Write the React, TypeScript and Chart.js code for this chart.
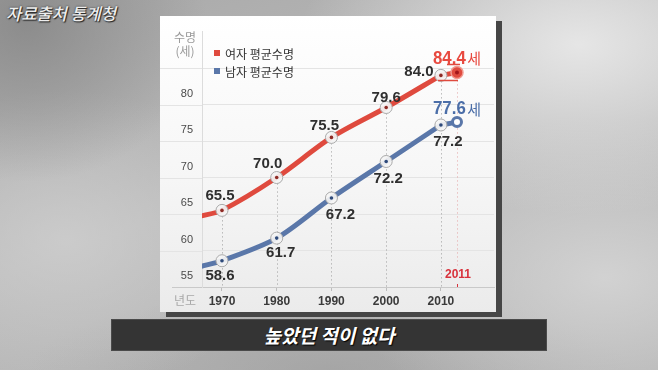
import React, { useEffect, useRef } from 'react';
import { Chart, registerables } from 'chart.js';

Chart.register(...registerables);

// ---------- data ----------
const years = [1970, 1980, 1990, 2000, 2010];
const femaleLife = [65.5, 70.0, 75.5, 79.6, 84.0];
const maleLife = [58.6, 61.7, 67.2, 72.2, 77.2];
const leadYear = 1966;
const femaleLead = 64.7;
const maleLead = 57.8;
const latestYear = 2011;
const femaleLatest = 84.4;
const maleLatest = 77.6;
const yTickValues = [55, 60, 65, 70, 75, 80];
const yGridValues = [55, 60, 65, 70, 75, 80, 85];
const seriesNames = ['여자 평균수명', '남자 평균수명'];

// ---------- styles ----------
const RED = '#df4a3e';
const BLUE = '#5a77a9';
const RED_TEXT = '#e8493f';
const BLUE_TEXT = '#4b6ea8';
const NFONT = "'Liberation Sans', Arial, sans-serif";
const KFONT = "'Noto Sans CJK KR', 'Noto Sans', sans-serif";

const femaleLabelOffsets = [[-2, -15], [-9, -14], [-7, -12], [0, -10], [-22, -4]];
const maleLabelOffsets = [[-2, 15], [4, 15], [9, 17], [2, 17], [7, 17]];

const overlayPlugin = {
  id: 'overlay',
  beforeDatasetsDraw(chart: any) {
    const { ctx, chartArea, scales } = chart;
    const ys = scales.y;
    ctx.save();
    ctx.lineWidth = 1;
    ctx.strokeStyle = '#e4e4e4';
    yGridValues.forEach((v) => {
      if (v === yGridValues[0]) return;
      const py = Math.round(ys.getPixelForValue(v)) + 0.5;
      ctx.beginPath();
      ctx.moveTo(0, py);
      ctx.lineTo(chartArea.left, py);
      ctx.stroke();
    });
    ctx.strokeStyle = '#c9c9c9';
    const by = Math.round(chartArea.bottom) + 0.5;
    ctx.beginPath();
    ctx.moveTo(12, by);
    ctx.lineTo(chartArea.left, by);
    ctx.stroke();

    const fMeta = chart.getDatasetMeta(0);
    ctx.setLineDash([1, 3]);
    ctx.strokeStyle = '#9c9c9c';
    years.forEach((_, i) => {
      const el = fMeta.data[i + 1];
      const x = Math.round(el.x) + 0.5;
      ctx.beginPath();
      ctx.moveTo(x, el.y + 6);
      ctx.lineTo(x, chartArea.bottom);
      ctx.stroke();
    });
    const endEl = chart.getDatasetMeta(2).data[1];
    const ex = Math.round(endEl.x) + 0.5;
    ctx.strokeStyle = '#e3a3a3';
    ctx.beginPath();
    ctx.moveTo(ex, endEl.y + 8);
    ctx.lineTo(ex, chartArea.bottom - 20);
    ctx.stroke();
    ctx.setLineDash([]);

    ctx.fillStyle = '#d8323c';
    ctx.font = `bold 12px ${NFONT}`;
    ctx.textAlign = 'center';
    ctx.textBaseline = 'middle';
    ctx.fillText(String(latestYear), endEl.x + 1, chartArea.bottom - 12);
    ctx.strokeStyle = '#d8323c';
    ctx.beginPath();
    ctx.moveTo(ex, chartArea.bottom - 3);
    ctx.lineTo(ex, chartArea.bottom);
    ctx.stroke();
    ctx.restore();
  },
  afterDatasetsDraw(chart: any) {
    const { ctx } = chart;
    ctx.save();
    const drawMarker = (x: number, y: number, dot: string) => {
      ctx.beginPath();
      ctx.arc(x, y, 6, 0, Math.PI * 2);
      ctx.fillStyle = 'rgba(244,244,244,0.92)';
      ctx.fill();
      ctx.lineWidth = 1;
      ctx.strokeStyle = '#a9a9a9';
      ctx.stroke();
      ctx.beginPath();
      ctx.arc(x, y, 1.8, 0, Math.PI * 2);
      ctx.fillStyle = dot;
      ctx.fill();
    };
    const fMeta = chart.getDatasetMeta(0);
    const mMeta = chart.getDatasetMeta(1);
    years.forEach((_, i) => {
      const f = fMeta.data[i + 1];
      const m = mMeta.data[i + 1];
      drawMarker(f.x, f.y, '#8e2a24');
      drawMarker(m.x, m.y, '#2e4a7a');
    });

    const fe = chart.getDatasetMeta(2).data[1];
    const me = chart.getDatasetMeta(3).data[1];
    ctx.beginPath();
    ctx.arc(fe.x, fe.y, 6, 0, Math.PI * 2);
    ctx.fillStyle = RED;
    ctx.fill();
    ctx.lineWidth = 1.5;
    ctx.strokeStyle = '#f29a90';
    ctx.stroke();
    ctx.beginPath();
    ctx.arc(fe.x, fe.y, 2, 0, Math.PI * 2);
    ctx.fillStyle = '#a3161a';
    ctx.fill();
    ctx.strokeStyle = RED;
    ctx.lineWidth = 1.5;
    ctx.beginPath();
    ctx.moveTo(fe.x - 10, fe.y - 8);
    ctx.lineTo(fe.x + 3, fe.y - 8);
    ctx.moveTo(fe.x - 19, fe.y + 8);
    ctx.lineTo(fe.x + 1, fe.y + 8);
    ctx.stroke();

    ctx.beginPath();
    ctx.arc(me.x, me.y, 4.5, 0, Math.PI * 2);
    ctx.fillStyle = '#ffffff';
    ctx.fill();
    ctx.lineWidth = 3;
    ctx.strokeStyle = BLUE;
    ctx.stroke();

    ctx.font = `bold 15px ${NFONT}`;
    ctx.textAlign = 'center';
    ctx.textBaseline = 'middle';
    ctx.fillStyle = '#2f2f2f';
    years.forEach((_, i) => {
      const f = fMeta.data[i + 1];
      const m = mMeta.data[i + 1];
      const [fdx, fdy] = femaleLabelOffsets[i];
      const [mdx, mdy] = maleLabelOffsets[i];
      ctx.fillText(femaleLife[i].toFixed(1), f.x + fdx, f.y + fdy);
      ctx.fillText(maleLife[i].toFixed(1), m.x + mdx, m.y + mdy);
    });

    const bigLabel = (val: number, x: number, y: number, color: string) => {
      ctx.save();
      ctx.fillStyle = color;
      ctx.translate(x, y);
      ctx.scale(0.91, 1);
      ctx.font = `bold 18.5px ${NFONT}`;
      ctx.textAlign = 'left';
      ctx.textBaseline = 'middle';
      const txt = val.toFixed(1);
      ctx.fillText(txt, 0, 0);
      const w = ctx.measureText(txt).width * 0.91;
      ctx.restore();
      ctx.fillStyle = color;
      ctx.font = `15px ${KFONT}`;
      ctx.textAlign = 'left';
      ctx.textBaseline = 'middle';
      ctx.fillText('세', x + w + 1.5, y);
    };
    bigLabel(femaleLatest, fe.x - 24, fe.y - 14, RED_TEXT);
    bigLabel(maleLatest, me.x - 24, me.y - 13, BLUE_TEXT);
    ctx.restore();
  },
};

export default function App() {
  const canvasRef = useRef<HTMLCanvasElement>(null);

  useEffect(() => {
    const canvas = canvasRef.current;
    if (!canvas) return;
    const chart = new Chart(canvas, {
      type: 'line',
      data: {
        datasets: [
          {
            label: seriesNames[0],
            data: [{ x: leadYear, y: femaleLead }, ...years.map((yr, i) => ({ x: yr, y: femaleLife[i] }))],
            xAxisID: 'x',
            borderColor: RED,
            borderWidth: 5,
            pointRadius: 0,
            tension: 0.3,
            borderCapStyle: 'round',
          },
          {
            label: seriesNames[1],
            data: [{ x: leadYear, y: maleLead }, ...years.map((yr, i) => ({ x: yr, y: maleLife[i] }))],
            xAxisID: 'x',
            borderColor: BLUE,
            borderWidth: 5,
            pointRadius: 0,
            tension: 0.3,
            borderCapStyle: 'round',
          },
          {
            label: seriesNames[0] + ' ' + latestYear,
            data: [
              { x: years[years.length - 1], y: femaleLife[femaleLife.length - 1] },
              { x: latestYear, y: femaleLatest },
            ],
            xAxisID: 'x2',
            borderColor: RED,
            borderWidth: 5,
            pointRadius: 0,
            tension: 0,
          },
          {
            label: seriesNames[1] + ' ' + latestYear,
            data: [
              { x: years[years.length - 1], y: maleLife[maleLife.length - 1] },
              { x: latestYear, y: maleLatest },
            ],
            xAxisID: 'x2',
            borderColor: BLUE,
            borderWidth: 5,
            pointRadius: 0,
            tension: 0,
          },
        ],
      },
      options: {
        animation: false,
        responsive: false,
        devicePixelRatio: 1,
        layout: { padding: { top: 8.5, right: 2, left: 0, bottom: 0 } },
        plugins: { legend: { display: false }, tooltip: { enabled: false } },
        scales: {
          x: {
            type: 'linear',
            min: 1966.35,
            max: 2019.7,
            afterBuildTicks: (s: any) => {
              s.ticks = years.map((v) => ({ value: v }));
            },
            afterFit: (s: any) => {
              s.height = 25;
            },
            grid: { drawOnChartArea: false, drawTicks: true, tickLength: 4, tickColor: '#bdbdbd' },
            border: { display: true, color: '#c9c9c9' },
            ticks: {
              padding: 3,
              autoSkip: false,
              maxRotation: 0,
              color: '#3a3a3a',
              font: { size: 12, weight: 'bold', family: NFONT },
              callback: (v: any) => String(v),
            },
          },
          x2: { type: 'linear', display: false, min: 1995.0625, max: 2013.3125 },
          y: {
            type: 'linear',
            min: 55,
            max: 90,
            afterBuildTicks: (s: any) => {
              s.ticks = yGridValues.map((v) => ({ value: v }));
            },
            afterFit: (s: any) => {
              s.width = 42;
            },
            grid: {
              drawTicks: false,
              color: (c: any) => (c.tick && c.tick.value === yGridValues[0] ? 'rgba(0,0,0,0)' : '#e4e4e4'),
            },
            border: { display: true, color: '#dcdcdc' },
            ticks: {
              padding: 9,
              labelOffset: -11,
              color: '#4a4a4a',
              font: { size: 11, family: NFONT },
              callback: (v: any) => (yTickValues.includes(v) ? String(v) : ''),
            },
          },
        },
      } as any,
      plugins: [overlayPlugin],
    });
    return () => chart.destroy();
  }, []);

  return (
    <div
      style={{
        position: 'fixed',
        left: 0,
        top: 0,
        width: 658,
        height: 370,
        overflow: 'hidden',
        fontFamily: KFONT,
        background:
          'radial-gradient(ellipse 280px 170px at 88% 12%, rgba(232,232,232,0.95), rgba(232,232,232,0) 100%),' +
          'radial-gradient(ellipse 180px 160px at 4% 6%, rgba(130,130,130,0.75), rgba(130,130,130,0) 100%),' +
          'radial-gradient(ellipse 220px 150px at 10% 65%, rgba(210,210,210,0.7), rgba(210,210,210,0) 100%),' +
          'radial-gradient(ellipse 260px 160px at 92% 75%, rgba(215,215,215,0.85), rgba(215,215,215,0) 100%),' +
          'radial-gradient(ellipse 300px 80px at 50% 100%, rgba(150,150,150,0.5), rgba(150,150,150,0) 100%),' +
          'linear-gradient(160deg, #a8a8a8 0%, #bababa 45%, #b2b2b2 100%)',
      }}
    >
      <div
        style={{
          position: 'absolute',
          left: 6,
          top: 1,
          fontSize: 16.5,
          fontStyle: 'italic',
          fontWeight: 500,
          color: '#eeeeee',
          textShadow: '0 0 2px #2a2a2a, 1px 1px 1px #222',
          whiteSpace: 'nowrap',
        }}
      >
        자료출처 통계청
      </div>

      <div
        style={{
          position: 'absolute',
          left: 160,
          top: 16,
          width: 336,
          height: 296,
          background: 'linear-gradient(to bottom, #ffffff 0%, #f6f6f6 55%, #ebebeb 100%)',
          boxShadow: '6px 5px 0 #464646',
        }}
      >
        <canvas ref={canvasRef} width={336} height={296} style={{ position: 'absolute', left: 0, top: 0, width: 336, height: 296 }} />
        <div style={{ position: 'absolute', left: 10, top: 14, width: 30, textAlign: 'center', fontSize: 12, lineHeight: '14px', color: '#9a9a9a' }}>
          수명
          <br />
          (세)
        </div>
        <div style={{ position: 'absolute', left: 10, top: 276, width: 30, textAlign: 'center', fontSize: 12, lineHeight: '16px', color: '#a8a8a8' }}>
          년도
        </div>
        {seriesNames.map((name, i) => (
          <div
            key={name}
            style={{
              position: 'absolute',
              left: 54,
              top: 29 + i * 18,
              height: 16,
              display: 'flex',
              alignItems: 'center',
              fontSize: 12,
              color: '#333',
              whiteSpace: 'nowrap',
            }}
          >
            <span style={{ display: 'inline-block', width: 6, height: 6, background: i === 0 ? RED : BLUE, marginRight: 5 }} />
            {name}
          </div>
        ))}
      </div>

      <div
        style={{
          position: 'absolute',
          left: 111,
          top: 319,
          width: 436,
          height: 32,
          background: '#343434',
          boxShadow: 'inset 0 0 0 1px #4a4a4a',
          color: '#ffffff',
          fontSize: 19,
          fontWeight: 700,
          fontStyle: 'italic',
          lineHeight: '32px',
          textAlign: 'center',
          textShadow: '1px 1px 1px #000',
          whiteSpace: 'nowrap',
        }}
      >
        높았던 적이 없다
      </div>
    </div>
  );
}
